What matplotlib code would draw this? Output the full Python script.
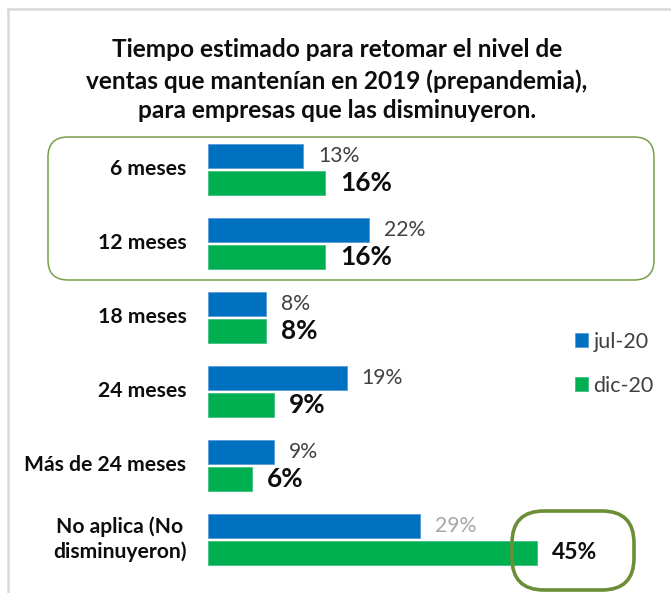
import matplotlib
matplotlib.use("Agg")
import matplotlib.pyplot as plt
from matplotlib.patches import FancyBboxPatch
from matplotlib.transforms import IdentityTransform
from matplotlib.lines import Line2D

plt.rcParams['font.family'] = ['Lato', 'DejaVu Sans']

categories = ["6 meses", "12 meses", "18 meses", "24 meses", "Más de 24 meses",
              "No aplica (No\ndisminuyeron)"]
jul20 = [13, 22, 8, 19, 9, 29]
dic20 = [16, 16, 8, 9, 6, 45]
series_names = ["jul-20", "dic-20"]
title_lines = ["Tiempo estimado para retomar el nivel de",
               "ventas que mantenían en 2019 (prepandemia),",
               "para empresas que las disminuyeron."]

W, H = 671, 593
DPI = 100
fig = plt.figure(figsize=(W / DPI, H / DPI), dpi=DPI)
fig.patch.set_facecolor("white")

BLUE = "#0070C0"
GREEN = "#00B050"
OLIVE = "#6b8e37"

# axes: x=0 at px 208, 7.3 px per %
x0_px = 208
px_per = 7.3
pitch = 74.02
c0 = 169.3
ax = fig.add_axes([x0_px / W, 0, (W - x0_px) / W, 1])
ax.set_xlim(0, (W - x0_px) / px_per)
ax.set_ylim((H - c0) / pitch, -c0 / pitch)
ax.axis("off")

off = 13.5 / pitch
bh = 23.5 / pitch
ys = list(range(len(categories)))
b1 = ax.barh([y - off for y in ys], jul20, height=bh, color=BLUE,
             edgecolor="#5a9bd8", linewidth=0.6, label=series_names[0])
b2 = ax.barh([y + off for y in ys], dic20, height=bh, color=GREEN,
             edgecolor="#40c080", linewidth=0.6, label=series_names[1])

# category labels
for y, c in zip(ys, categories):
    ax.annotate(c, xy=(0, y), xytext=(-15.5, 0), textcoords="offset points",
                ha="right", va="center", multialignment="center",
                fontsize=15.2, fontweight="bold", color="#0d0d0d",
                linespacing=1.3)

# value labels
for i, (y, v) in enumerate(zip(ys, jul20)):
    col = "#a6a6a6" if i == len(ys) - 1 else "#404040"
    ax.annotate(f"{v}%", xy=(v, y - off), xytext=(10.8, 0),
                textcoords="offset points", ha="left", va="center",
                fontsize=15.2, color=col)
for i, (y, v) in enumerate(zip(ys, dic20)):
    fs = 16.5 if i == len(ys) - 1 else 18.8
    ax.annotate(f"{v}%", xy=(v, y + off), xytext=(10.8, 0),
                textcoords="offset points", ha="left", va="center",
                fontsize=fs, fontweight="bold", color="#0d0d0d")

# title
for yb, line in zip([57.3, 89.0, 118.5], title_lines):
    fig.text(336.7 / W, 1 - yb / H, line, ha="center", va="baseline",
             fontsize=17.6, fontweight="bold", color="#0d0d0d")

# legend
ax.legend(handles=[b1, b2], labels=series_names, loc="upper left",
          bbox_to_anchor=(566 / W, 1 - 323 / H), bbox_transform=fig.transFigure,
          frameon=False, fontsize=15.5, handlelength=0.62, handleheight=0.62,
          handletextpad=0.25, labelspacing=1.13, borderaxespad=0,
          labelcolor="#404040")

ident = IdentityTransform()
# highlight box around first two categories
box = FancyBboxPatch((48, H - 280), 606, 143,
                     boxstyle="round,pad=0,rounding_size=20",
                     transform=ident, fill=False, edgecolor="#7a9d48",
                     linewidth=1.1)
fig.patches.append(box)
# highlight around 45%
ell = FancyBboxPatch((512, H - 590), 122, 79,
                     boxstyle="round,pad=0,rounding_size=32",
                     transform=ident, fill=False, edgecolor=OLIVE,
                     linewidth=2.6)
fig.patches.append(ell)

# frame lines
fig.lines.append(Line2D([7.5, W], [H - 8.8, H - 8.8], transform=ident,
                        color="#d9d9d9", linewidth=1.8))
fig.lines.append(Line2D([8.3, 8.3], [0, H - 8.8], transform=ident,
                        color="#d9d9d9", linewidth=1.8))

fig.savefig("out.png", dpi=DPI)
